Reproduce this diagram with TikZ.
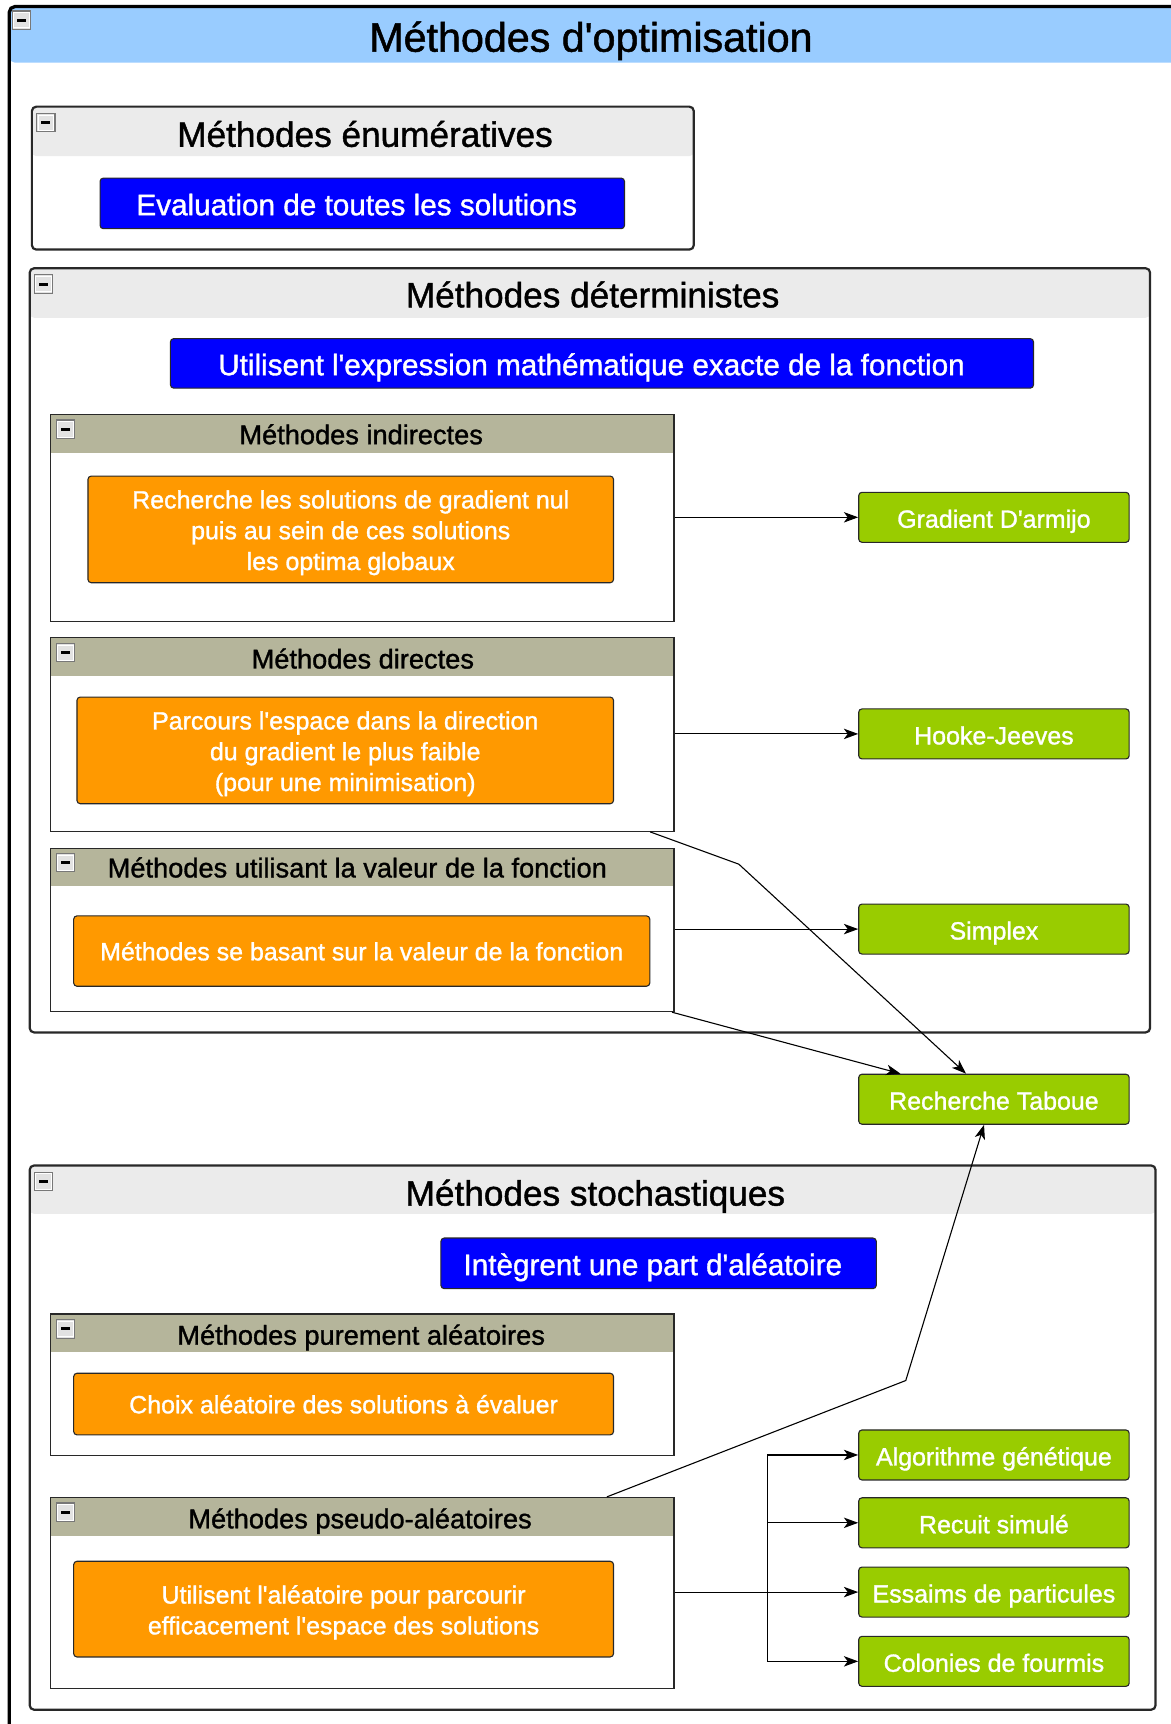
\documentclass[tikz,border=0pt]{standalone}
\usepackage{fontspec}
\setmainfont{Liberation Sans}[FakeBold=1.2]
\usetikzlibrary{arrows.meta}
\definecolor{titlebar}{RGB}{153,204,255}
\definecolor{hdrA}{RGB}{235,235,235}
\definecolor{hdrB}{RGB}{181,181,155}
\definecolor{bblue}{RGB}{0,0,255}
\definecolor{borange}{RGB}{255,153,0}
\definecolor{bgreen}{RGB}{153,204,0}
\definecolor{framec}{RGB}{40,40,40}
\definecolor{btnfill}{RGB}{226,226,226}
\definecolor{btnborder}{RGB}{120,120,120}
\newcommand\fs[2]{\fontsize{#1}{#2}\selectfont}
\newcommand\q{\textquotesingle}
\newcommand\fstrut{\rule{0pt}{22.6pt}}
\newcommand\mbtn[2]{%
  \draw[fill=btnfill, draw=btnborder, line width=1pt] (#1,#2) rectangle ++(17,17);
  \draw[white, line width=0.8pt] (#1+1.6,#2+1.6) rectangle ++(13.8,13.8);
  \draw[black, line width=2.4pt] (#1+4.5,#2+8.5) -- ++(8,0);}
\tikzset{
  outerframe/.style={draw=black, line width=3pt, rounded corners=5pt, inner sep=0pt,
    path picture={\fill[titlebar] (path picture bounding box.north west) rectangle ([yshift=-51pt]path picture bounding box.north east);}},
  lvlone/.style={draw=framec, line width=2pt, rounded corners=4pt, inner sep=0pt,
    path picture={\fill[hdrA] (path picture bounding box.north west) rectangle ([yshift=-#1]path picture bounding box.north east);}},
  lvltwo/.style={draw=framec, line width=1.2pt, inner sep=0pt,
    path picture={\fill[hdrB] (path picture bounding box.north west) rectangle ([yshift=-#1]path picture bounding box.north east);}},
  ttl/.style={anchor=base, inner sep=0pt, text=black},
  cbox/.style={draw=framec, line width=1pt, rounded corners=3pt, text=white, inner sep=2pt, align=center},
  bluebox/.style={cbox, fill=bblue, font=\fs{27}{32}, text height=21.5pt, text depth=0pt},
  orbox/.style={cbox, fill=borange, font=\fs{22.7}{28}},
  orone/.style={orbox, text height=16.8pt, text depth=0pt},
  grbox/.style={cbox, fill=bgreen, font=\fs{22.7}{28}, minimum width=246pt, minimum height=45.5pt, text height=19pt, text depth=0pt},
  arr/.style={draw=black, line width=1pt, -{Stealth[length=13pt,width=9.5pt,inset=3.5pt]}},
  wire/.style={draw=black, line width=1pt}
}
\begin{document}
\begin{tikzpicture}[x=1pt,y=-1pt]
\useasboundingbox[fill=white] (0,0) rectangle (1065,1568);
\begin{scope}
\clip (0,0) rectangle (1065,1568);
% outer frame
\node[outerframe, minimum width=1081.5pt, minimum height=1594pt] (outer) at (549.25,803) {};
\mbtn{11}{10}
\node[ttl, font=\fs{37.5}{45}] (title) at (537.5,47) {Méthodes d\q optimisation};

% level one containers
\node[lvlone=45pt, minimum width=602pt, minimum height=130pt] (enum) at (330,162) {};
\node[lvlone=45pt, minimum width=1019pt, minimum height=695pt] (det) at (536.5,591.5) {};
\node[lvlone=44pt, minimum width=1024pt, minimum height=495pt] (stoch) at (539,1307.5) {};
\mbtn{33}{103}
\mbtn{31}{250}
\mbtn{31}{1066}
\node[ttl, font=\fs{32}{38}] (henum) at (332,133.5) {Méthodes énumératives};
\node[ttl, font=\fs{32}{38}] (hdet) at (539,279.5) {Méthodes déterministes};
\node[ttl, font=\fs{32}{38}] (hstoch) at (541.5,1096.5) {Méthodes stochastiques};

% level two containers
\node[lvltwo=35pt, minimum width=567pt, minimum height=188pt] (ind) at (329.5,471) {};
\node[lvltwo=35pt, minimum width=567pt, minimum height=176pt] (dir) at (329.5,668) {};
\node[lvltwo=34pt, minimum width=567pt, minimum height=148pt] (val) at (329.5,846) {};
\node[lvltwo=35pt, minimum width=567pt, minimum height=129pt] (pur) at (329.5,1259.5) {};
\node[lvltwo=35pt, minimum width=567pt, minimum height=174pt] (pseudo) at (329.5,1449) {};
\mbtn{51}{382}
\mbtn{51}{585}
\mbtn{51}{776}
\mbtn{51}{1200}
\mbtn{51}{1367}
\node[ttl, font=\fs{24.75}{30}] (hind) at (328.5,404) {Méthodes indirectes};
\node[ttl, font=\fs{24.75}{30}] (hdir) at (330,608) {Méthodes directes};
\node[ttl, font=\fs{24.75}{30}] (hval) at (325,798) {Méthodes utilisant la valeur de la fonction};
\node[ttl, font=\fs{24.75}{30}] (hpur) at (328.5,1223) {Méthodes purement aléatoires};
\node[ttl, font=\fs{24.75}{30}] (hpseudo) at (327.5,1390) {Méthodes pseudo-aléatoires};

% blue boxes
\node[bluebox, minimum width=477pt, minimum height=46pt] (eval) at (329.5,185) {Evaluation de toutes les solutions\hspace*{10pt}};
\node[bluebox, minimum width=785pt, minimum height=45pt] (expr) at (547.5,330.5) {Utilisent l\q expression mathématique exacte de la fonction\hspace*{19pt}};
\node[bluebox, minimum width=396pt, minimum height=46pt] (integ) at (599,1149) {Intègrent une part d\q aléatoire\hspace*{10.5pt}};

% orange boxes
\node[orbox, minimum width=478pt, minimum height=97pt] (o1) at (319,481.5) {\fstrut Recherche les solutions de gradient nul\\puis au sein de ces solutions\\les optima globaux};
\node[orbox, minimum width=488pt, minimum height=97pt] (o2) at (314,682.5) {\fstrut Parcours l\q espace dans la direction\\du gradient le plus faible\\(pour une minimisation)};
\node[orone, minimum width=524pt, minimum height=64pt] (o3) at (329,865) {Méthodes se basant sur la valeur de la fonction};
\node[orone, minimum width=491pt, minimum height=56pt] (o4) at (312.5,1277) {Choix aléatoire des solutions à évaluer};
\node[orbox, minimum width=491pt, minimum height=87pt] (o5) at (312.5,1463.5) {\fstrut Utilisent l\q aléatoire pour parcourir\\efficacement l\q espace des solutions};

% green boxes
\node[grbox] (grad) at (904,470.5) {Gradient D\q armijo};
\node[grbox] (hooke) at (904,667.5) {Hooke-Jeeves};
\node[grbox] (simplex) at (904,845) {Simplex};
\node[grbox] (taboue) at (904,999.75) {Recherche Taboue};
\node[grbox] (algo) at (904,1323.3) {Algorithme génétique};
\node[grbox] (recuit) at (904,1385) {Recuit simulé};
\node[grbox] (essaims) at (904,1448) {Essaims de particules};
\node[grbox] (colonies) at (904,1511) {Colonies de fourmis};

% connectors
\draw[arr] (ind.east |- grad.west) -- (grad.west);
\draw[arr] (dir.east |- hooke.west) -- (hooke.west);
\draw[arr] (val.east |- simplex.west) -- (simplex.west);
\coordinate (b1) at (672,786);
\draw[arr] ([xshift=-22.3pt]dir.south east) -- (b1) -- ([xshift=-25.4pt]taboue.north);
\draw[arr] ([xshift=-2.4pt]val.south east) -- ([xshift=-85pt]taboue.north);
\coordinate (b2) at (823.8,1255.6);
\draw[arr] ([xshift=222.5pt]pseudo.north) -- (b2) -- ([xshift=-9pt]taboue.south);
\coordinate (bus) at (698,1400);
\draw[arr] (pseudo.east |- essaims.west) -- (essaims.west);
\draw[arr] (bus |- essaims.west) |- (algo.west);
\draw[arr] (bus |- essaims.west) |- (recuit.west);
\draw[arr] (bus |- essaims.west) |- (colonies.west);
\end{scope}
\end{tikzpicture}
\end{document}
